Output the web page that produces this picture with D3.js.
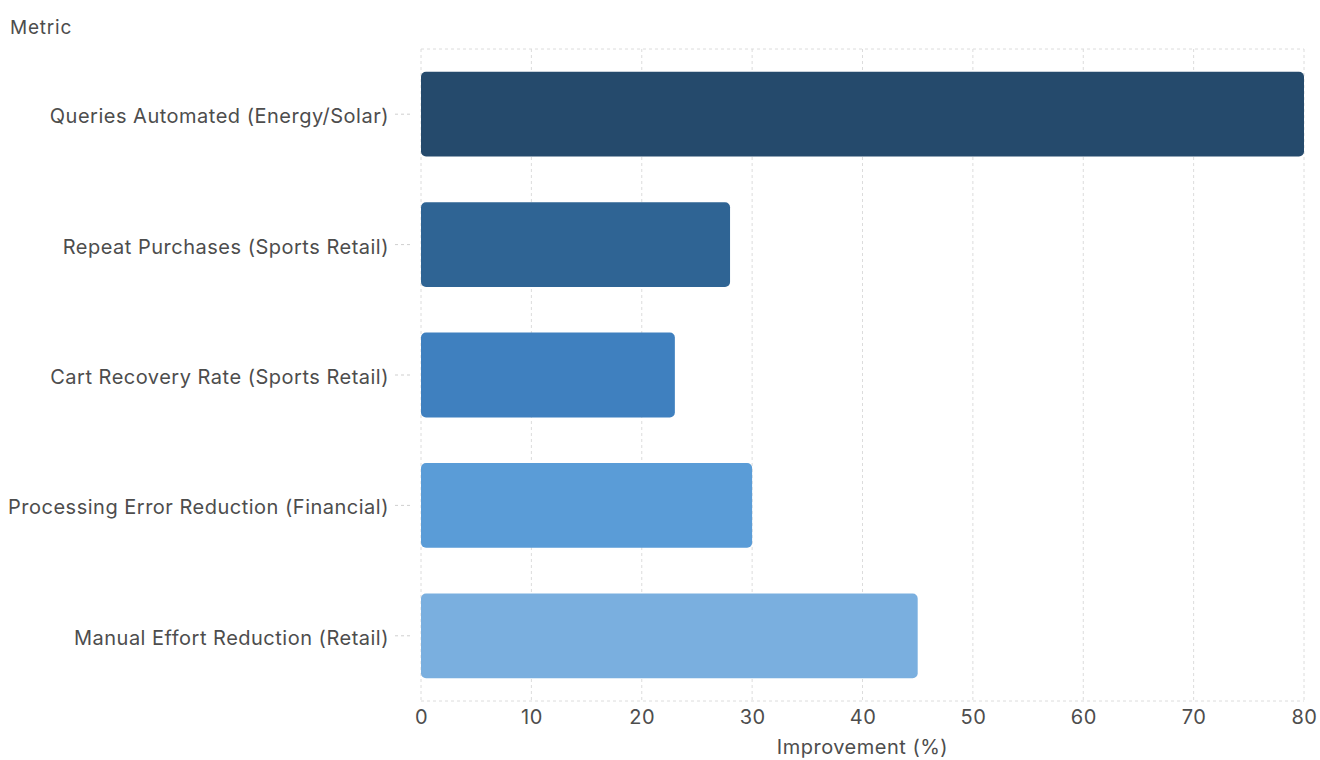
<!DOCTYPE html>
<html>
<head>
<meta charset="utf-8">
<script src="https://cdn.jsdelivr.net/npm/d3@7"></script>
<style>
  html, body { margin: 0; padding: 0; background: #ffffff; }
  svg { display: block; font-family: Inter, "Noto Sans", sans-serif; }
</style>
</head>
<body>
<svg id="chart" width="1320" height="760"></svg>
<script>
const categories = [
  "Queries Automated (Energy/Solar)",
  "Repeat Purchases (Sports Retail)",
  "Cart Recovery Rate (Sports Retail)",
  "Processing Error Reduction (Financial)",
  "Manual Effort Reduction (Retail)"
];
const values = [80, 28, 23, 30, 45];
const barColors = ["#254a6c", "#2f6494", "#3f80bf", "#5a9cd7", "#7aafdf"];
const xTicks = [0, 10, 20, 30, 40, 50, 60, 70, 80];
const xTitle = "Improvement (%)";
const yTitle = "Metric";

const svg = d3.select("#chart");
const margin = { left: 421, right: 16, top: 49, bottom: 59 };
const W = 1320, H = 760;
const x0 = margin.left, x1 = W - margin.right, y0 = margin.top, y1 = H - margin.bottom;

const x = d3.scaleLinear().domain([0, 80]).range([x0, x1]);
const y = d3.scaleBand().domain(categories).range([y0, y1]).paddingInner(0.35).paddingOuter(0.175);

const textColor = "#4d4d4d";
const gridColor = "#dcdcdc";
const grid = svg.append("g");
grid.selectAll("line.v").data(xTicks).join("line")
  .attr("x1", d => x(d)).attr("x2", d => x(d))
  .attr("y1", y0).attr("y2", y1)
  .attr("stroke", gridColor).attr("stroke-dasharray", "3 3");
grid.selectAll("line.h").data([y0, y1]).join("line")
  .attr("x1", x0).attr("x2", x1)
  .attr("y1", d => d).attr("y2", d => d)
  .attr("stroke", gridColor).attr("stroke-dasharray", "3 3");

// bars
svg.append("g").selectAll("rect").data(categories).join("rect")
  .attr("x", x(0))
  .attr("y", d => y(d))
  .attr("width", (d, i) => x(values[i]) - x(0))
  .attr("height", y.bandwidth())
  .attr("rx", 5).attr("ry", 5)
  .attr("fill", (d, i) => barColors[i]);

// y axis
const yAxis = svg.append("g").attr("transform", `translate(${x0},0)`)
  .call(d3.axisLeft(y).tickSize(0).tickPadding(32));
yAxis.select(".domain").remove();
yAxis.selectAll(".tick line")
  .attr("x1", -26).attr("x2", -11)
  .attr("stroke", "#cfcfcf").attr("stroke-dasharray", "3 3");
yAxis.selectAll(".tick text")
  .attr("dy", "0.45em")
  .attr("font-size", 20).attr("letter-spacing", 0.5).attr("fill", textColor)
  .attr("font-family", "Inter, 'Noto Sans', sans-serif");

// x axis
const xAxis = svg.append("g").attr("transform", `translate(0,${y1})`)
  .call(d3.axisBottom(x).tickValues(xTicks).tickSize(0).tickPadding(9));
xAxis.select(".domain").remove();
xAxis.selectAll(".tick text")
  .attr("font-size", 20).attr("letter-spacing", 0.5).attr("fill", textColor)
  .attr("font-family", "Inter, 'Noto Sans', sans-serif");

// titles
svg.append("text")
  .attr("x", (x0 + x1) / 2).attr("y", 754)
  .attr("text-anchor", "middle")
  .attr("font-size", 20).attr("letter-spacing", 0.5).attr("fill", textColor)
  .text(xTitle);
svg.append("text")
  .attr("x", 10).attr("y", 34)
  .attr("font-size", 19).attr("letter-spacing", 0.8).attr("fill", textColor)
  .text(yTitle);
</script>
</body>
</html>
